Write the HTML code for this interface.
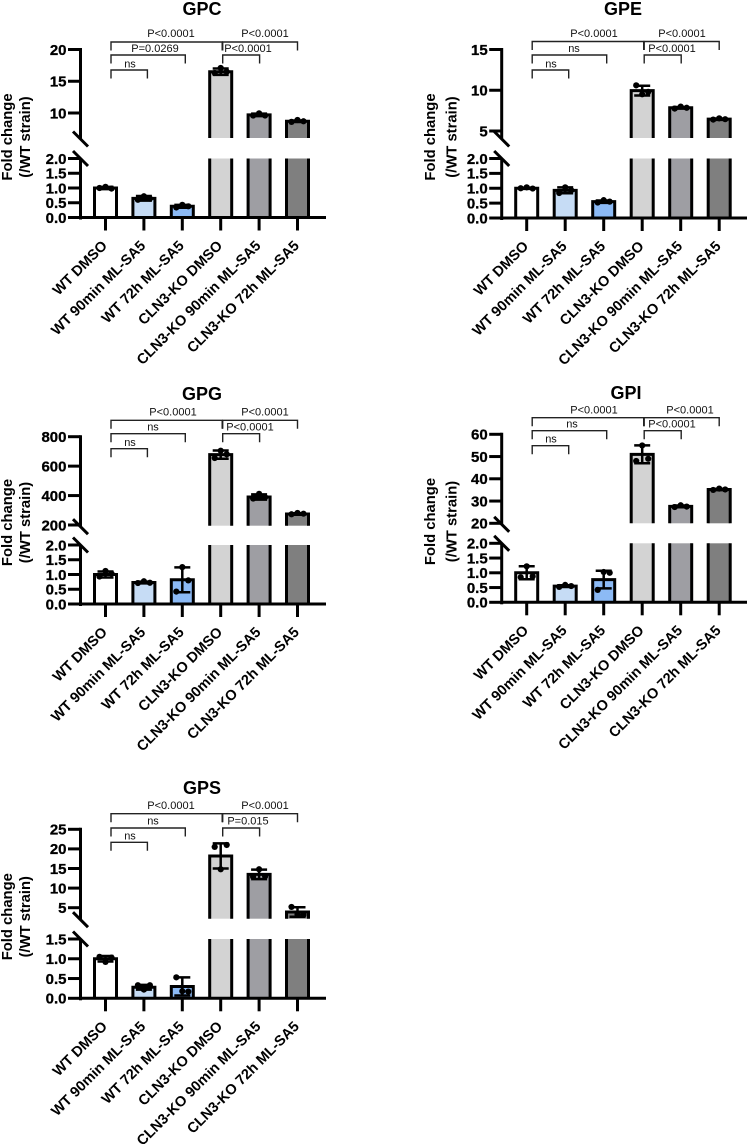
<!DOCTYPE html>
<html lang="en">
<head>
<meta charset="utf-8">
<title>Fold change of glycerophosphodiesters</title>
<style>
html,body{margin:0;padding:0;background:#fff;}
svg{display:block;}
text{font-family:"Liberation Sans",sans-serif;}
</style>
</head>
<body>
<svg id="figure" xmlns="http://www.w3.org/2000/svg" width="748" height="1144" viewBox="0 0 748 1144"></svg>
<script>
// ---------- chart data ----------
const categories = ['WT DMSO','WT 90min ML-SA5','WT 72h ML-SA5','CLN3-KO DMSO','CLN3-KO 90min ML-SA5','CLN3-KO 72h ML-SA5'];
const barColors = ['#ffffff','#c6dcf5','#8cbaf5','#d3d3d3','#9e9ea3','#7f7f7f'];

const gpcMeans = [1.0,0.65,0.38,16.5,9.7,8.7];
const gpcErrors = [0.04,0.08,0.05,0.5,0.2,0.12];
const gpcPoints = [[1.0,1.04,0.98],[0.6,0.72,0.64],[0.34,0.43,0.38],[16.3,17.1,16.5],[9.6,9.95,9.6],[8.6,8.9,8.7]];
const gpcUpperTicks = [10,15,20];
const gpcLowerTicks = [0,0.5,1,1.5,2];
const gpcBrackets = ['P<0.0001','P<0.0001','P=0.0269','P<0.0001','ns'];

const gpeMeans = [1.0,0.93,0.55,9.95,7.85,6.45];
const gpeErrors = [0.02,0.1,0.04,0.6,0.1,0.08];
const gpePoints = [[1.0,1.03,0.99],[0.84,1.03,0.93],[0.52,0.6,0.55],[10.6,9.5,9.8],[7.75,8.0,7.85],[6.4,6.55,6.45]];
const gpeUpperTicks = [5,10,15];
const gpeLowerTicks = [0,0.5,1,1.5,2];
const gpeBrackets = ['P<0.0001','P<0.0001','ns','P<0.0001','ns'];

const gpgMeans = [1.0,0.73,0.82,678,390,275];
const gpgErrors = [0.1,0.03,0.42,28,18,5];
const gpgPoints = [[0.93,1.12,1.03],[0.71,0.77,0.72],[0.42,1.25,0.8],[655,705,680],[380,412,388],[273,282,277]];
const gpgUpperTicks = [200,400,600,800];
const gpgLowerTicks = [0,0.5,1,1.5,2];
const gpgBrackets = ['P<0.0001','P<0.0001','ns','P<0.0001','ns'];

const gpiMeans = [1.0,0.55,0.77,51,27.6,35.2];
const gpiErrors = [0.22,0.03,0.3,4,0.4,0.3];
const gpiPoints = [[0.85,1.22,0.88],[0.52,0.59,0.55],[0.42,1.03,1.0],[48,55,49],[27.3,28.1,27.5],[35,35.6,35.2]];
const gpiUpperTicks = [20,30,40,50,60];
const gpiLowerTicks = [0,0.5,1,1.5,2];
const gpiBrackets = ['P<0.0001','P<0.0001','ns','P<0.0001','ns'];

const gpsMeans = [1.0,0.28,0.3,18.2,13.5,3.9];
const gpsErrors = [0.07,0.06,0.23,3.2,1.2,1.2];
const gpsPoints = [[1.05,0.92,1.03],[0.33,0.22,0.33],[0.53,0.18,0.17],[20.5,14.8,21],[12.9,14.8,13],[5.2,3.3,3.2]];
const gpsUpperTicks = [5,10,15,20,25];
const gpsLowerTicks = [0,0.5,1,1.5];
const gpsBrackets = ['P<0.0001','P<0.0001','ns','P=0.015','ns'];

// ---------- drawing ----------
const NS = 'http://www.w3.org/2000/svg';
const figure = document.getElementById('figure');
const AXIS = 3;

function make(parent, tag, attrs, text) {
  const el = document.createElementNS(NS, tag);
  for (const k in attrs) el.setAttribute(k, attrs[k]);
  if (text !== undefined) el.textContent = text;
  parent.appendChild(el);
  return el;
}

function drawPanel(cfg, means, errors, points, upperTicks, lowerTicks, bracketLabels) {
  const slug = cfg.title.toLowerCase();
  const g = make(figure, 'g', {});
  
  

  const lowerMax = lowerTicks[lowerTicks.length - 1];
  const upperMin = upperTicks[0];
  const upperMax = upperTicks[upperTicks.length - 1];
  const yLower = v => cfg.base + (cfg.lowerTop - cfg.base) * v / lowerMax;
  const yUpper = v => cfg.upperBottomTick + (cfg.upperTopTick - cfg.upperBottomTick) * (v - upperMin) / (upperMax - upperMin);
  const y = v => v <= lowerMax ? yLower(v) : yUpper(v);
  const x = i => cfg.x0 + cfg.step * i;

  // title
  const title = make(g, 'text', {x: cfg.titleX, y: cfg.titleY, 'text-anchor': 'middle', 'font-size': 18, 'font-weight': 'bold', fill: '#000'}, cfg.title);
  
  

  // bars
  categories.forEach((name, i) => {
    const cx = x(i), half = 11, top = y(means[i]);
    const bar = make(g, 'g', {});
    
    
    const stroke = {fill: 'none', stroke: '#000', 'stroke-width': AXIS};
    if (means[i] <= lowerMax) {
      make(bar, 'rect', {x: cx - half, y: top, width: half * 2, height: cfg.base - top, fill: barColors[i]});
      make(bar, 'path', Object.assign({d: `M${cx - half} ${cfg.base}V${top}H${cx + half}V${cfg.base}`}, stroke));
    } else {
      make(bar, 'rect', {x: cx - half, y: cfg.lowerTop, width: half * 2, height: cfg.base - cfg.lowerTop, fill: barColors[i]});
      make(bar, 'rect', {x: cx - half, y: top, width: half * 2, height: cfg.breakBottom - top, fill: barColors[i]});
      make(bar, 'path', Object.assign({d: `M${cx - half} ${cfg.base}V${cfg.lowerTop}M${cx + half} ${cfg.base}V${cfg.lowerTop}`}, stroke));
      make(bar, 'path', Object.assign({d: `M${cx - half} ${cfg.breakBottom}V${top}H${cx + half}V${cfg.breakBottom}`}, stroke));
    }
    // error bar
    const eTop = y(means[i] + errors[i]);
    const eBot = y(means[i] - errors[i]);
    const err = make(g, 'path', {d: `M${cx} ${eTop}V${eBot}M${cx - 8} ${eTop}H${cx + 8}M${cx - 8} ${eBot}H${cx + 8}`, fill: 'none', stroke: '#000', 'stroke-width': 2.5});
    
    
    // points
    points[i].forEach((p, j) => {
      const dot = make(g, 'circle', {cx: cx + [-6, 0, 6][j], cy: y(p), r: 3.1, fill: '#000'});
      
      
    });
    // x tick + label
    const xTick = make(g, 'line', {x1: cx, x2: cx, y1: cfg.base, y2: cfg.base + 13, stroke: '#000', 'stroke-width': AXIS});
    
    
    const ax = cx + 2.5, ay = cfg.base + 29;
    const label = make(g, 'text', {x: ax, y: ay, transform: `rotate(-45 ${ax} ${ay})`, 'text-anchor': 'end', 'font-size': 14.5, 'font-weight': 'bold', fill: '#000'}, name);
    
    
  });

  // axes
  const ax = cfg.axisX;
  const xAxis = make(g, 'line', {x1: ax - 1, x2: cfg.axisEnd, y1: cfg.base, y2: cfg.base, stroke: '#000', 'stroke-width': AXIS});
  
  
  const yLow = make(g, 'line', {x1: ax, x2: ax, y1: cfg.base + 2, y2: cfg.lowerTop, stroke: '#000', 'stroke-width': AXIS});
  
  
  const yUp = make(g, 'line', {x1: ax, x2: ax, y1: cfg.upperTopTick - 1.5, y2: cfg.breakBottom + 1, stroke: '#000', 'stroke-width': AXIS});
  
  
  [cfg.breakBottom + 1, cfg.lowerTop].forEach(cy => {
    const slash = make(g, 'line', {x1: ax - 7.5, x2: ax + 7.5, y1: cy - 7.5, y2: cy + 7.5, stroke: '#000', 'stroke-width': AXIS});
    
    
  });

  const tick = (v, yp, digits) => {
    const t = make(g, 'line', {x1: ax - 12.5, x2: ax, y1: yp, y2: yp, stroke: '#000', 'stroke-width': AXIS});
    
    
    const l = make(g, 'text', {x: ax - 14, y: yp + 5.3, 'text-anchor': 'end', 'font-size': 15, 'font-weight': 'bold', fill: '#000', stroke: '#000', 'stroke-width': 0.3}, v.toFixed(digits));
    
    
  };
  lowerTicks.forEach(v => tick(v, yLower(v), 1));
  upperTicks.forEach(v => tick(v, yUpper(v), 0));

  // y axis title
  [['Fold change', cfg.ytX1], ['(/WT strain)', cfg.ytX2]].forEach(([txt, tx]) => {
    const t = make(g, 'text', {x: tx, y: cfg.ytY, transform: `rotate(-90 ${tx} ${cfg.ytY})`, 'text-anchor': 'middle', 'font-size': 14.8, 'font-weight': 'bold', fill: '#000'}, txt);
    
    
  });

  // significance brackets: [from, startOffset, to, endOffset, level]
  const spans = [[0,5.5,3,1.5,0],[3,2,5,0,0],[0,5.5,2,3,1],[3,2,4,0.5,1],[0,5.5,1,3.5,2]];
  spans.forEach((s, i) => {
    const x1 = x(s[0]) + s[1], x2 = x(s[2]) + s[3], by = cfg.bracketY[s[4]];
    const b = make(g, 'path', {d: `M${x1} ${by + 8.5}V${by}H${x2}V${by + 8.5}`, fill: 'none', stroke: '#222', 'stroke-width': 1.4});
    
    
    const l = make(g, 'text', {x: cfg.labelX[i], y: cfg.labelY[s[4]] - 0.5, 'text-anchor': 'middle', 'font-size': 11, fill: '#111'}, bracketLabels[i]);
    
    
  });
}

const leftCol = {x0: 105.5, step: 38.4, axisX: 80.5, axisEnd: 326, ytX1: 12, ytX2: 30};
const rightCol = {x0: 526.7, step: 38.5, axisX: 501.7, axisEnd: 747, ytX1: 435, ytX2: 456.5};

drawPanel(Object.assign({}, leftCol, {title: 'GPC', titleX: 202, titleY: 15, base: 217.5, lowerTop: 158.5, breakBottom: 138,
  upperBottomTick: 113, upperTopTick: 49.5, ytY: 137, bracketY: [42, 55, 70], labelY: [37.5, 52.5, 68],
  labelX: [171, 265, 155, 248, 130]}), gpcMeans, gpcErrors, gpcPoints, gpcUpperTicks, gpcLowerTicks, gpcBrackets);

drawPanel(Object.assign({}, rightCol, {title: 'GPE', titleX: 623, titleY: 15, base: 218, lowerTop: 158.5, breakBottom: 138,
  upperBottomTick: 131, upperTopTick: 49.5, ytY: 137, bracketY: [41.5, 55, 70], labelY: [37.5, 52.5, 68],
  labelX: [594, 682, 574, 672, 551]}), gpeMeans, gpeErrors, gpePoints, gpeUpperTicks, gpeLowerTicks, gpeBrackets);

drawPanel(Object.assign({}, leftCol, {title: 'GPG', titleX: 202, titleY: 400, base: 604, lowerTop: 545, breakBottom: 525.7,
  upperBottomTick: 525, upperTopTick: 436.7, ytY: 522.5, bracketY: [420.3, 433.7, 448.7], labelY: [416, 431, 446.7],
  labelX: [173, 265, 153, 250, 130]}), gpgMeans, gpgErrors, gpgPoints, gpgUpperTicks, gpgLowerTicks, gpgBrackets);

drawPanel(Object.assign({}, rightCol, {title: 'GPI', titleX: 626, titleY: 399, base: 602.3, lowerTop: 543.3, breakBottom: 523.3,
  upperBottomTick: 523.3, upperTopTick: 434.3, ytY: 521.5, bracketY: [417.7, 430.7, 445.7], labelY: [414, 428, 443],
  labelX: [594, 690, 572, 672, 551]}), gpiMeans, gpiErrors, gpiPoints, gpiUpperTicks, gpiLowerTicks, gpiBrackets);

drawPanel(Object.assign({}, leftCol, {title: 'GPS', titleX: 202, titleY: 794, base: 998.3, lowerTop: 939, breakBottom: 918.7,
  upperBottomTick: 907.7, upperTopTick: 829.3, ytY: 916.7, bracketY: [813.7, 828, 842.3], labelY: [809.5, 825, 840],
  labelX: [171, 265, 153, 248, 130]}), gpsMeans, gpsErrors, gpsPoints, gpsUpperTicks, gpsLowerTicks, gpsBrackets);
</script>
</body>
</html>
